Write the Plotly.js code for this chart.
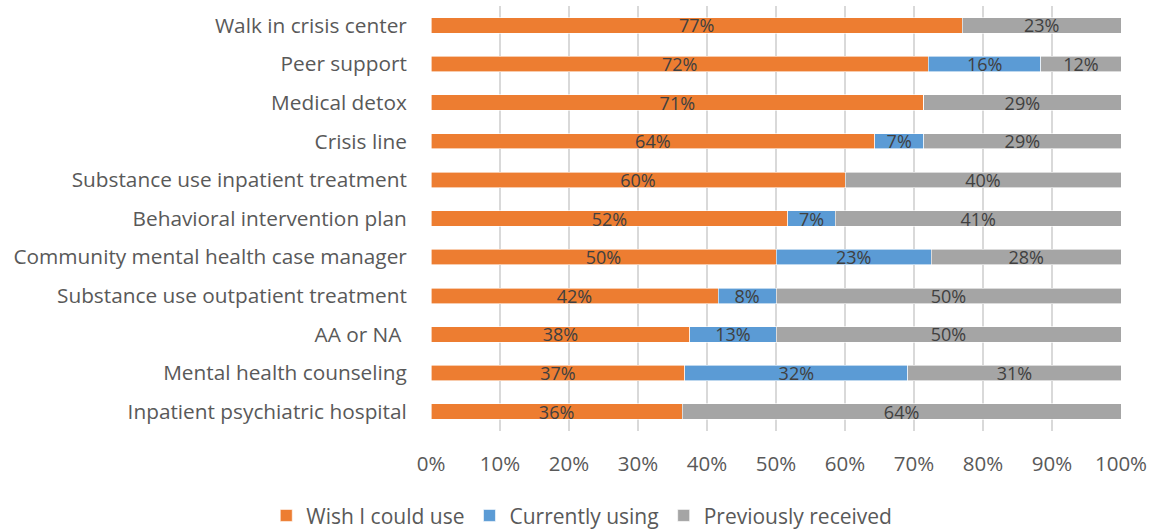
<!DOCTYPE html>
<html>
<head>
<meta charset="utf-8">
<script src="https://cdn.plot.ly/plotly-3.0.1.min.js"></script>
<style>html,body{margin:0;padding:0;background:#fff;}#chart{width:1152px;height:529px;}</style>
</head>
<body>
<div id="chart"></div>
<script>
var categories = [
  "Walk in crisis center",
  "Peer support",
  "Medical detox",
  "Crisis line",
  "Substance use inpatient treatment",
  "Behavioral intervention plan",
  "Community mental health case manager",
  "Substance use outpatient treatment",
  "AA or NA ",
  "Mental health counseling",
  "Inpatient psychiatric hospital"
];
var wishICouldUse     = [77.0, 72.1, 71.4, 64.3, 60.0, 51.7, 50.0, 41.6, 37.5, 36.8, 36.4];
var currentlyUsing    = [0,    16.3, 0,    7.1,  0,    6.9,  22.5, 8.4,  12.5, 32.3, 0];
var previouslyReceived= [23.0, 11.6, 28.6, 28.6, 40.0, 41.4, 27.5, 50.0, 50.0, 30.9, 63.6];
var xTickVals = [0,10,20,30,40,50,60,70,80,90,100];
var xTickText = ["0%","10%","20%","30%","40%","50%","60%","70%","80%","90%","100%"];

function labels(arr){ return arr.map(function(v){ return v > 0 ? Math.round(v) + "%" : ""; }); }

var FONT = "Open Sans, Noto Sans, sans-serif";
function makeTrace(name, vals, color){
  return {
    type: "bar", orientation: "h", name: name,
    y: categories, x: vals,
    text: labels(vals), texttemplate: "%{text}",
    textposition: "inside", insidetextanchor: "middle", textangle: 0,
    constraintext: "none", cliponaxis: false,
    insidetextfont: {family: FONT, size: 18, color: "#404040"},
    marker: {color: color, line: {color: "#ffffff", width: 0.6}},
    hoverinfo: "skip"
  };
}

var data = [
  makeTrace("Wish I could use", wishICouldUse, "#ED7D31"),
  makeTrace("Currently using", currentlyUsing, "#5B9BD5"),
  makeTrace("Previously received", previouslyReceived, "#A5A5A5")
];

var layout = {
  width: 1152, height: 529,
  margin: {l: 431, r: 31, t: 6, b: 98, pad: 0, autoexpand: false},
  barmode: "stack", bargap: 0.6,
  paper_bgcolor: "#ffffff", plot_bgcolor: "#ffffff",
  font: {family: FONT, color: "#595959", size: 20},
  xaxis: {
    range: [0, 100], tickvals: xTickVals, ticktext: xTickText,
    showgrid: true, gridcolor: "#d9d9d9", gridwidth: 1.5,
    zeroline: false, showline: false,
    ticks: "outside", ticklen: 14, tickcolor: "rgba(0,0,0,0)",
    tickfont: {family: FONT, size: 20.5, color: "#595959"},
    fixedrange: true, automargin: false
  },
  yaxis: {
    autorange: "reversed", type: "category",
    showgrid: false, zeroline: false, showline: false,
    ticks: "outside", ticklen: 19, tickcolor: "rgba(0,0,0,0)",
    tickfont: {family: FONT, size: 20.8, color: "#595959"},
    fixedrange: true, automargin: false
  },
  showlegend: true,
  legend: {
    orientation: "h", xref: "container", yref: "container",
    x: 0.505, xanchor: "center", y: 0.025, yanchor: "middle",
    font: {family: FONT, size: 21, color: "#595959"},
    traceorder: "normal", itemwidth: 30
  }
};

Plotly.newPlot("chart", data, layout, {displayModeBar: false, staticPlot: true});
</script>
</body>
</html>
